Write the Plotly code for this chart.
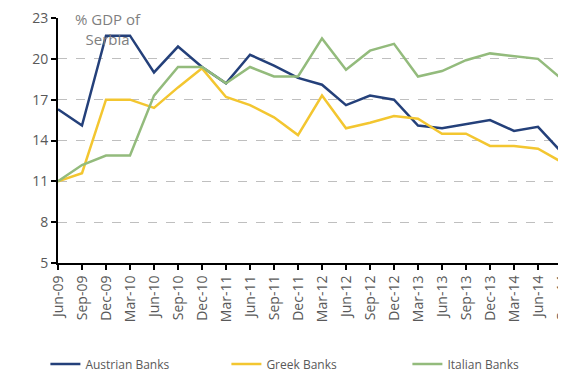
import plotly.graph_objects as go

quarters = ["Jun-09", "Sep-09", "Dec-09", "Mar-10", "Jun-10", "Sep-10", "Dec-10", "Mar-11",
            "Jun-11", "Sep-11", "Dec-11", "Mar-12", "Jun-12", "Sep-12", "Dec-12", "Mar-13",
            "Jun-13", "Sep-13", "Dec-13", "Mar-14", "Jun-14", "Sep-14"]

austrian = [16.3, 15.1, 21.7, 21.7, 19.0, 20.9, 19.4, 18.2, 20.3, 19.5, 18.6, 18.1,
            16.6, 17.3, 17.0, 15.1, 14.9, 15.2, 15.5, 14.7, 15.0, 13.1]
greek = [11.0, 11.6, 17.0, 17.0, 16.4, 17.9, 19.3, 17.2, 16.6, 15.7, 14.4, 17.3,
         14.9, 15.3, 15.8, 15.6, 14.5, 14.5, 13.6, 13.6, 13.4, 12.4]
italian = [11.0, 12.2, 12.9, 12.9, 17.3, 19.4, 19.4, 18.2, 19.4, 18.7, 18.7, 21.5,
           19.2, 20.6, 21.1, 18.7, 19.1, 19.9, 20.4, 20.2, 20.0, 18.5]

y_ticks = [5, 8, 11, 14, 17, 20, 23]

series = [
    ("Austrian Banks", austrian, "#24407A"),
    ("Greek Banks", greek, "#F3C630"),
    ("Italian Banks", italian, "#93BB7C"),
]

fig = go.Figure()
for name, vals, color in series:
    fig.add_trace(go.Scatter(
        x=quarters, y=vals, mode="lines", name=name,
        line=dict(color=color, width=2.5),
    ))

fig.update_xaxes(
    type="category", range=[0, 21], tickangle=-90, automargin=False,
    showline=True, linecolor="black", linewidth=2,
    ticks="outside", ticklen=5, tickcolor="black", tickwidth=2,
    showgrid=False, tickfont=dict(size=14, color="#595959"),
    ticklabeloverflow="allow",
)
fig.update_yaxes(
    range=[5, 23], tickvals=y_ticks, automargin=False,
    showline=True, linecolor="black", linewidth=2,
    ticks="outside", ticklen=5, tickcolor="black", tickwidth=2,
    gridcolor="#BFBFBF", griddash="dash", gridwidth=1,
    zeroline=False, tickfont=dict(size=14, color="#595959"),
    ticklabeloverflow="allow",
)

fig.add_annotation(
    text="% GDP of<br>Serbia", xref="paper", yref="paper",
    x=0.1, y=1.045, xanchor="center", yanchor="top", showarrow=False,
    font=dict(size=15, color="#7F7F7F"), align="center",
)

fig.update_layout(
    width=558, height=368,
    margin=dict(l=50, r=4, t=10, b=113, autoexpand=False),
    paper_bgcolor="white", plot_bgcolor="white",
    font=dict(family="Open Sans, sans-serif", color="#595959"),
    legend=dict(
        orientation="h", x=-0.025, xanchor="left", y=-0.412, yanchor="middle",
        font=dict(size=12, color="#595959"), entrywidth=136,
    ),
)

fig.write_html("out.html")
